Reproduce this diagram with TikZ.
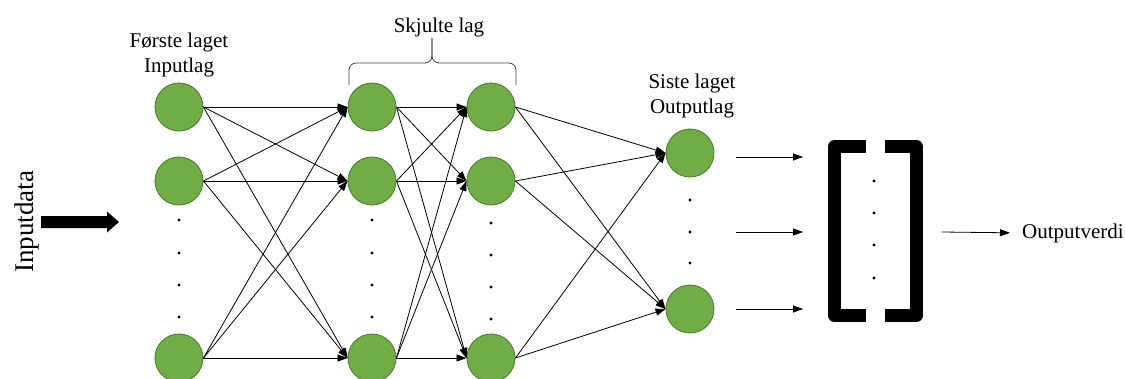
\documentclass[tikz,border=0pt]{standalone}
\usepackage{fontspec}
\setmainfont{Liberation Serif}
\usetikzlibrary{arrows.meta}
\definecolor{neurongreen}{HTML}{70AD47}
\definecolor{neuronedge}{HTML}{507E32}
\tikzset{
  neuron/.style={circle, fill=neurongreen, draw=neuronedge, line width=0.9pt,
    minimum size=48pt, inner sep=0pt},
  link/.style={line width=0.8pt, -{Triangle[length=10pt,width=7pt]}},
  lbl/.style={font=\fontsize{21}{25}\selectfont, inner sep=0pt, anchor=base},
  dotmark/.style={fill=black},
}
\begin{document}
\begin{tikzpicture}[x=1pt,y=-1pt]
\clip (0,0) rectangle (1125,378);
\fill[white] (0,0) rectangle (1125,378);

% neurons
\foreach \n/\y in {1/107,2/181,3/358}{
  \node[neuron] (i\n) at (179,\y) {};
  \node[neuron] (h\n) at (372,\y) {};
  \node[neuron] (g\n) at (491,\y) {};
}
\node[neuron] (o1) at (690,153) {};
\node[neuron] (o2) at (690,309) {};

% vertical ellipsis dots in the layers
\foreach \y in {220,253,285,317}{
  \fill[dotmark] (179,\y) circle (1.6);
  \fill[dotmark] (372,\y) circle (1.6);
}
\foreach \y in {223,255,287,319}{
  \fill[dotmark] (491,\y) circle (1.6);
}
\foreach \y in {200,232,263}{
  \fill[dotmark] (690,\y) circle (1.6);
}
\foreach \y in {181,213,245,278}{
  \fill[dotmark] (874,\y) circle (1.6);
}

% fully connected links
\foreach \a in {1,2,3}{
  \foreach \b in {1,2,3}{
    \draw[link] (i\a.east) -- (h\b.west);
    \draw[link] (h\a.east) -- (g\b.west);
  }
  \foreach \b in {1,2}{
    \draw[link] (g\a.east) -- (o\b.west);
  }
}

% labels
\node[lbl] (l1a) at (179,47) {Første laget};
\node[lbl] (l1b) at (179,72) {Inputlag};
\node[lbl] (l2) at (439,32) {Skjulte lag};
\node[lbl] (l3a) at (692,88) {Siste laget};
\node[lbl] (l3b) at (692,113) {Outputlag};
\node[font=\fontsize{27}{30}\selectfont, inner sep=0pt, anchor=base, rotate=90]
  (indata) at (33,222) {Inputdata};
\node[font=\fontsize{21}{25}\selectfont, inner sep=0pt, anchor=base west]
  (outval) at (1022,238) {Outputverdi};

% brace over the hidden layers
\draw[line width=0.8pt, draw=black!75, rounded corners=7]
  (349,85) -- (349,63) -- (432,63) -- (432,38);
\draw[line width=0.8pt, draw=black!75, rounded corners=7]
  (432,38) -- (432,63) -- (516,63) -- (516,85);

% thick input arrow
\fill (41,216) -- (107,216) -- (107,211.5) -- (119,222) -- (107,232.5)
  -- (107,228) -- (41,228) -- cycle;

% output vector brackets
\draw[line width=13pt, line join=round]
  (866,146.5) -- (834.5,146.5) -- (834.5,315.5) -- (866,315.5);
\draw[line width=13pt, line join=round]
  (885,146.5) -- (916.5,146.5) -- (916.5,315.5) -- (885,315.5);

% arrows into and out of the output vector
\coordinate (a1s) at (736,157);
\coordinate (a1e) at (803,157);
\coordinate (a2s) at (736,232);
\coordinate (a2e) at (803,232);
\coordinate (a3s) at (736,309);
\coordinate (a3e) at (803,309);
\coordinate (bs) at (942,232);
\draw[link] (a1s) -- (a1e);
\draw[link] (a2s) -- (a2e);
\draw[link] (a3s) -- (a3e);
\draw[link, shorten >=12pt] (bs) -- (outval.west);
\end{tikzpicture}
\end{document}
